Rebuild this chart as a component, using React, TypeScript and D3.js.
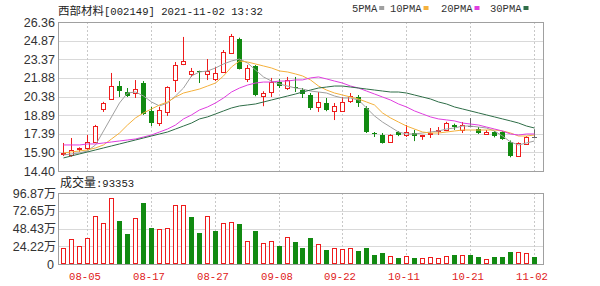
import React from "react";
import * as d3 from "d3";

const dates = ["08-02","08-03","08-04","08-05","08-06","08-09","08-10","08-11","08-12","08-13","08-16","08-17","08-18","08-19","08-20","08-23","08-24","08-25","08-26","08-27","08-30","08-31","09-01","09-02","09-03","09-06","09-07","09-08","09-09","09-10","09-13","09-14","09-15","09-16","09-17","09-22","09-23","09-24","09-27","09-28","09-29","09-30","10-08","10-11","10-12","10-13","10-14","10-15","10-18","10-19","10-20","10-21","10-22","10-25","10-26","10-27","10-28","10-29","11-01","11-02"];
const openP = [15.75,15.70,16.20,16.25,16.75,19.35,20.20,21.22,20.74,20.66,21.46,19.22,18.25,19.14,21.70,23.00,22.19,22.40,22.20,21.78,22.35,23.87,25.00,21.78,22.83,20.45,20.74,21.54,21.06,21.14,20.90,20.50,19.54,19.86,19.22,19.22,20.02,20.34,19.46,17.45,17.29,16.73,17.50,17.29,17.45,17.20,17.40,17.65,17.69,18.09,17.69,18.05,17.77,17.40,17.53,17.53,16.73,15.61,16.57,17.12];
const highP = [16.65,17.05,16.30,17.29,18.10,19.95,22.27,21.62,21.06,21.70,21.62,19.54,19.54,21.20,23.15,25.16,22.67,22.45,23.39,22.75,24.11,25.40,25.10,22.91,22.90,20.80,21.87,21.78,21.95,21.95,21.06,20.66,20.74,20.26,19.86,20.34,20.66,20.50,19.60,17.53,17.45,17.35,17.60,18.09,17.70,17.30,17.85,17.93,18.35,18.20,18.33,18.65,17.93,17.69,17.60,17.60,16.85,16.70,17.20,17.75];
const lowP = [15.60,15.55,15.95,16.09,16.70,19.14,20.10,20.34,20.34,20.26,18.90,18.01,18.01,18.82,20.74,22.90,21.95,21.46,21.70,21.62,22.27,23.80,22.55,21.54,20.40,19.60,20.34,21.06,20.90,20.74,20.26,19.30,19.14,19.20,18.49,19.14,19.86,19.54,17.45,17.13,16.60,16.70,17.20,17.13,16.80,16.90,17.05,17.30,17.60,17.70,17.45,17.93,17.37,17.29,17.10,16.90,15.50,15.55,16.50,17.10];
const closeP = [15.85,16.05,16.25,16.73,18.01,19.86,21.22,20.82,20.42,20.98,18.98,18.25,19.30,21.14,22.91,23.20,22.43,22.35,22.40,22.27,23.95,25.24,22.60,22.67,20.50,20.70,21.54,21.22,21.70,21.06,20.60,19.46,19.94,19.30,19.62,19.94,20.42,19.86,17.53,17.35,16.65,17.29,17.27,17.53,17.20,17.25,17.45,17.70,18.25,17.93,18.09,18.05,17.45,17.50,17.20,16.97,15.61,16.65,17.15,17.12];
// volume in 万
const volume = [21.4,33.7,24.6,35.9,65.9,56.4,89.6,59.1,40.9,63.2,83.6,48.7,47.3,48.7,80.5,80.5,64.5,41.9,65.5,45.5,56.4,57.8,54.6,31.4,45.5,28.2,31.4,25.0,36.4,29.6,21.4,35.1,26.9,19.1,21.4,20.0,22.3,17.7,22.3,12.3,15.5,10.9,7.7,10.9,8.6,7.7,10.0,8.6,10.9,12.3,11.8,12.3,9.1,6.4,9.1,9.1,16.8,16.8,14.6,9.34];

const ma5 = [15.69,15.77,15.85,16.01,16.49,17.61,18.74,19.86,20.66,20.74,20.42,19.94,19.62,19.86,20.42,21.06,22.03,22.35,22.43,22.67,22.99,23.23,23.39,23.07,22.51,21.95,21.62,21.38,21.22,21.06,20.98,20.82,20.74,20.66,20.42,20.26,20.26,20.10,19.46,18.82,18.33,17.93,17.53,17.37,17.37,17.45,17.53,17.61,17.77,17.85,18.01,18.01,17.93,17.85,17.61,17.21,16.73,16.49,16.65,16.81];
const ma10 = [15.85,15.93,16.01,16.09,16.25,16.49,16.97,17.45,18.09,18.66,19.06,19.38,19.70,19.94,20.34,20.66,20.82,20.98,21.22,21.46,22.03,22.75,23.23,23.15,22.99,22.83,22.67,22.43,22.35,22.19,22.03,21.71,21.22,20.90,20.66,20.50,20.34,20.18,19.94,19.70,19.06,18.66,18.33,18.01,17.77,17.53,17.45,17.45,17.53,17.61,17.69,17.69,17.69,17.69,17.69,17.61,17.45,17.21,17.21,17.29];
const ma20 = [16.49,16.49,16.49,16.57,16.57,16.65,16.73,16.81,16.89,16.97,17.13,17.29,17.53,17.77,18.09,18.58,18.90,19.30,19.54,19.86,20.26,20.74,21.06,21.30,21.46,21.54,21.54,21.62,21.62,21.71,21.71,21.87,21.95,21.79,21.62,21.46,21.22,21.06,20.82,20.58,20.34,20.10,19.78,19.54,19.22,18.98,18.74,18.58,18.50,18.42,18.25,18.17,18.09,17.93,17.77,17.61,17.37,17.29,17.37,17.37];
const ma30 = [15.45,15.61,15.77,15.93,16.09,16.25,16.41,16.57,16.73,16.89,17.05,17.21,17.37,17.53,17.77,18.01,18.25,18.58,18.74,18.98,19.22,19.46,19.62,19.70,19.78,19.94,20.10,20.26,20.42,20.58,20.74,20.90,21.06,21.14,21.22,21.22,21.14,21.06,20.98,20.90,20.82,20.74,20.74,20.66,20.50,20.34,20.18,19.94,19.78,19.54,19.38,19.22,19.06,18.90,18.74,18.58,18.42,18.25,18.01,17.85];

const priceTicks = [26.36,24.87,23.37,21.88,20.38,18.89,17.39,15.90,14.40];
const volTicks = [96.87,72.65,48.43,24.22,0];
const xLabels = ["08-05","08-17","08-27","09-08","09-22","10-11","10-21","11-02"];
const maNames = ["5PMA","10PMA","20PMA","30PMA"];
const maSeries = [ma5, ma10, ma20, ma30];
const stockName = "西部材料";
const stockCode = "[002149] 2021-11-02 13:32";
const volLabel = "成交量";
const lastVol = ":93353";

const RED = "#ee1c1c";
const GREEN = "#118a11";
const DOJI = "#666666";
const maColors = ["#a0a0a0", "#f5b13c", "#e03ee0", "#2f6e48"];

const L = 58, R = 543;
const PT = 22, PB = 171;
const VT = 193, VB = 264;
const MONO = "'Liberation Mono', monospace";
const SANS = "'Liberation Sans', Arial, sans-serif";
const CJK = "'Noto Sans CJK SC', sans-serif";

export default function App() {
  const x = d3.scaleBand<string>().domain(dates).range([59, 538]).paddingInner(0.35).paddingOuter(0.175);
  const cx = (i: number) => Math.round((x(dates[i]) as number) + x.bandwidth() / 2);
  const y = d3.scaleLinear().domain([14.40, 26.36]).range([PB, PT]);
  const yv = d3.scaleLinear().domain([0, 96.87]).range([VB, VT]);
  const line = d3.line<number>().x((_, i) => cx(i) + 0.5).y((d) => y(d));

  const vGrid = xLabels.map((lab) => cx(dates.indexOf(lab)) + 0.5);

  return (
    <svg width={600} height={286} style={{ display: "block", position: "absolute", left: 0, top: 0, background: "#fff" }}>
      <rect x={0} y={0} width={600} height={286} fill="#fff" />
      {/* title */}
      <text x={58} y={15} fontSize={11.5} fill="#222">
        <tspan fontFamily={CJK}>{stockName}</tspan>
        <tspan fontFamily={MONO} fontSize={10.6}>{stockCode}</tspan>
      </text>
      {/* legend */}
      {maNames.map((n, k) => {
        const lx = [352, 390, 441, 490][k];
        const tw = n.length * 6.3;
        return (
          <g key={n}>
            <text x={lx} y={12} fontFamily={MONO} fontSize={10.5} fill="#333">{n}</text>
            <rect x={lx + tw + 2} y={6} width={5} height={4} fill={maColors[k]} />
          </g>
        );
      })}

      {/* price grid */}
      {priceTicks.map((t) => (
        <line key={"pg" + t} x1={L} x2={R} y1={Math.round(y(t)) + 0.5} y2={Math.round(y(t)) + 0.5} stroke="#d9d9d9" />
      ))}
      {vGrid.map((gx, k) => (
        <line key={"vg" + k} x1={gx} x2={gx} y1={PT} y2={PB} stroke="#c8c8c8" strokeDasharray="2,2" />
      ))}
      <rect x={L + 0.5} y={PT + 0.5} width={R - L} height={PB - PT} fill="none" stroke="#a0a0a0" />
      {priceTicks.map((t) => (
        <text key={"pl" + t} x={55} y={y(t)} dy="0.36em" textAnchor="end" fontFamily={SANS} fontSize={12.5} fill="#333">{t.toFixed(2)}</text>
      ))}

      {/* candles */}
      {dates.map((d, i) => {
        const o = openP[i], c = closeP[i], h = highP[i], l = lowP[i];
        const xc = cx(i) + 0.5;
        if (c === o) {
          return (
            <g key={d}>
              <line x1={xc} x2={xc} y1={y(h)} y2={y(l)} stroke={DOJI} />
              <line x1={xc - 2.5} x2={xc + 2.5} y1={Math.round(y(c)) + 0.5} y2={Math.round(y(c)) + 0.5} stroke={DOJI} />
            </g>
          );
        }
        const up = c > o;
        const top = Math.round(y(Math.max(o, c)));
        const bot = Math.max(Math.round(y(Math.min(o, c))), top + 1);
        if (up) {
          return (
            <g key={d}>
              <line x1={xc} x2={xc} y1={y(h)} y2={top + 0.5} stroke={RED} />
              <line x1={xc} x2={xc} y1={bot + 0.5} y2={y(l)} stroke={RED} />
              <rect x={xc - 2} y={top + 0.5} width={4} height={bot - top} fill="#fff" stroke={RED} />
            </g>
          );
        }
        return (
          <g key={d}>
            <line x1={xc} x2={xc} y1={y(h)} y2={y(l)} stroke={GREEN} />
            <rect x={xc - 2.5} y={top} width={5} height={Math.max(bot - top, 1)} fill={GREEN} />
          </g>
        );
      })}

      {/* MA lines */}
      {maSeries.map((s, k) => (
        <path key={"ma" + k} d={line(s) || ""} fill="none" stroke={maColors[k]} strokeWidth={1} />
      ))}

      {/* volume panel */}
      <text x={60} y={187} fontSize={12} fill="#222">
        <tspan fontFamily={CJK}>{volLabel}</tspan>
        <tspan fontFamily={MONO} fontSize={10.6}>{lastVol}</tspan>
      </text>
      {volTicks.map((t) => (
        <line key={"vgl" + t} x1={L} x2={R} y1={Math.round(yv(t)) + 0.5} y2={Math.round(yv(t)) + 0.5} stroke="#d9d9d9" />
      ))}
      {vGrid.map((gx, k) => (
        <line key={"vvg" + k} x1={gx} x2={gx} y1={VT} y2={VB} stroke="#c8c8c8" strokeDasharray="2,2" />
      ))}
      <rect x={L + 0.5} y={VT + 0.5} width={R - L} height={VB - VT} fill="none" stroke="#a0a0a0" />
      {volTicks.map((t) => (
        <text key={"vl" + t} x={t === 0 ? 54 : 56} y={yv(t)} dy="0.36em" textAnchor="end" fontFamily={SANS} fontSize={12.5} fill="#333">
          {t === 0 ? "0" : t.toFixed(2)}
          {t === 0 ? null : <tspan fontFamily={CJK} fontSize={12}>万</tspan>}
        </text>
      ))}
      {dates.map((d, i) => {
        const prev = i === 0 ? openP[0] : closeP[i - 1];
        const up = closeP[i] >= prev;
        const xc = cx(i) + 0.5;
        const top = Math.round(yv(volume[i]));
        if (up) {
          return <rect key={"v" + d} x={xc - 2} y={top + 0.5} width={4} height={VB - top - 1} fill="#fff" stroke={RED} />;
        }
        return <rect key={"v" + d} x={xc - 2.5} y={top} width={5} height={VB - top} fill={GREEN} />;
      })}

      {/* x labels */}
      {xLabels.map((lab) => (
        <text key={"xl" + lab} x={cx(dates.indexOf(lab)) - 2} y={280} textAnchor="middle" fontFamily={MONO} fontSize={10.6} fill="#e02020">{lab}</text>
      ))}
    </svg>
  );
}
